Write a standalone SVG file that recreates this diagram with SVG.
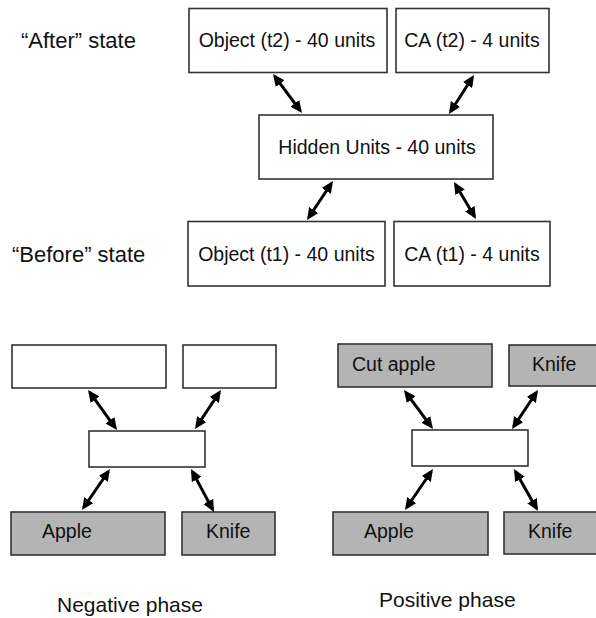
<svg xmlns="http://www.w3.org/2000/svg" width="596" height="618" viewBox="0 0 596 618">
<defs>
<style>
text{font-family:"Liberation Sans",Arial,sans-serif;fill:#111}
.lbl{font-size:22px}
.t{font-size:19.5px}
.ph{font-size:21px}
.m{text-anchor:middle}
.w{fill:#fff;stroke:#333;stroke-width:1.6}
.g{fill:#b4b4b4;stroke:#333;stroke-width:1.6}
.c{stroke:#000;stroke-width:3;fill:none;marker-start:url(#ah);marker-end:url(#ah)}
</style>
<marker id="ah" markerUnits="userSpaceOnUse" markerWidth="12" markerHeight="11" refX="9" refY="5.5" orient="auto-start-reverse" viewBox="0 0 12 11">
<path d="M0,0 L12,5.5 L0,11 z" fill="#000"/>
</marker>
</defs>
<rect width="596" height="618" fill="#fff"/>
<text class="lbl" x="21" y="48">“After” state</text>
<text class="lbl" x="12" y="262">“Before” state</text>
<g id="obj_t2"><rect class="w" x="189" y="8.5" width="198" height="64"/><text class="t m" x="287" y="47">Object (t2) - 40 units</text></g>
<g id="ca_t2"><rect class="w" x="396" y="8.5" width="153" height="64"/><text class="t m" x="472" y="47">CA (t2) - 4 units</text></g>
<g id="hidden"><rect class="w" x="259" y="115" width="234" height="64"/><text class="t m" x="377" y="154">Hidden Units - 40 units</text></g>
<g id="obj_t1"><rect class="w" x="188" y="221.5" width="197" height="64.5"/><text class="t m" x="286.5" y="261">Object (t1) - 40 units</text></g>
<g id="ca_t1"><rect class="w" x="394" y="221.5" width="156" height="64.5"/><text class="t m" x="472" y="261">CA (t1) - 4 units</text></g>
<g id="neg_top1"><rect class="w" x="12" y="345" width="154" height="43"/></g>
<g id="neg_top2"><rect class="w" x="183" y="345" width="93" height="43"/></g>
<g id="neg_mid"><rect class="w" x="89" y="431" width="116" height="36"/></g>
<g id="neg_apple"><rect class="g" x="11" y="512" width="154" height="43"/><text class="t" x="42" y="538">Apple</text></g>
<g id="neg_knife"><rect class="g" x="182" y="512" width="93" height="43"/><text class="t" x="206" y="538">Knife</text></g>
<g id="pos_cut"><rect class="g" x="338" y="344" width="154" height="43"/><text class="t" x="352" y="371">Cut apple</text></g>
<g id="pos_knife_top"><rect class="g" x="509" y="345" width="90" height="41"/><text class="t" x="532" y="371">Knife</text></g>
<g id="pos_mid"><rect class="w" x="412" y="430" width="116" height="36"/></g>
<g id="pos_apple"><rect class="g" x="333" y="512" width="155" height="43"/><text class="t" x="364" y="538">Apple</text></g>
<g id="pos_knife"><rect class="g" x="504" y="512" width="95" height="42"/><text class="t" x="528" y="538">Knife</text></g>
<text class="ph" x="57" y="612">Negative phase</text>
<text class="ph" x="379" y="607">Positive phase</text>
<g id="connectors">
<line class="c" x1="274.8" y1="76.4" x2="300.2" y2="110.6"/>
<line class="c" x1="472.4" y1="77.5" x2="450.6" y2="111.5"/>
<line class="c" x1="331.3" y1="183.5" x2="308.7" y2="217.5"/>
<line class="c" x1="455.5" y1="184.6" x2="474.5" y2="216.4"/>
<line class="c" x1="89.8" y1="392.4" x2="115.2" y2="427.6"/>
<line class="c" x1="219.3" y1="392.5" x2="196.7" y2="426.5"/>
<line class="c" x1="108.3" y1="471.5" x2="83.7" y2="507.5"/>
<line class="c" x1="192.4" y1="471.6" x2="212.6" y2="509.4"/>
<line class="c" x1="405.8" y1="392.4" x2="431.2" y2="426.6"/>
<line class="c" x1="536.3" y1="392.5" x2="513.7" y2="426.5"/>
<line class="c" x1="431.3" y1="471.5" x2="406.7" y2="507.5"/>
<line class="c" x1="515.5" y1="471.6" x2="536.5" y2="508.4"/>
</g>
</svg>
